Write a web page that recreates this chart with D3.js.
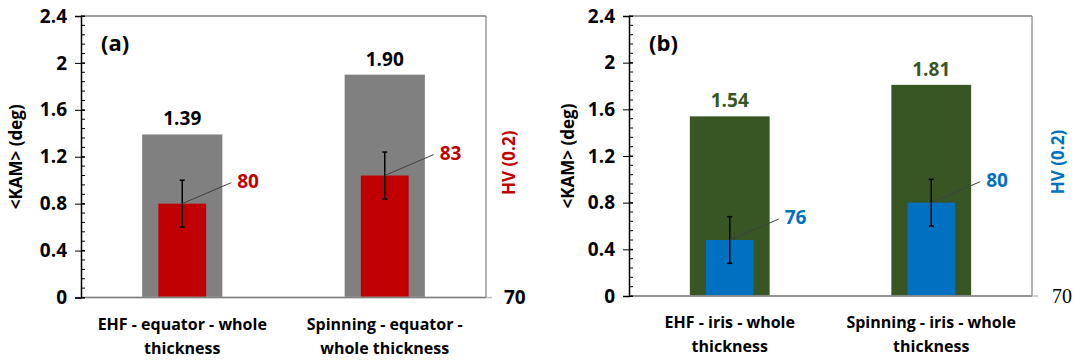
<!DOCTYPE html>
<html>
<head>
<meta charset="utf-8">
<script src="https://cdn.jsdelivr.net/npm/d3@7"></script>
<style>
  body { margin: 0; background: #fff; }
</style>
</head>
<body>
<svg id="chart" width="1078" height="360" font-family="Open Sans, sans-serif" font-weight="bold"></svg>
<script>
// chart values
var panelLabels = ["(a)", "(b)"];
var categoriesA = [["EHF - equator - whole", "thickness"], ["Spinning - equator -", "whole thickness"]];
var categoriesB = [["EHF - iris - whole", "thickness"], ["Spinning - iris - whole", "thickness"]];
var kamA = [1.39, 1.90];
var kamB = [1.54, 1.81];
var hvA = [80, 83];
var hvB = [76, 80];
var hvErrA = [2.5, 2.5];
var hvErrB = [2.5, 2.5];
var kamTicks = [0, 0.4, 0.8, 1.2, 1.6, 2, 2.4];
var hvTicks = [70];

var svg = d3.select("#chart");

function drawPanel(opt) {
	var g = svg.append("g");
	var x = d3.scaleBand()
		.domain(d3.range(opt.kam.length))
		.range([opt.left, opt.right]);
	var y = d3.scaleLinear()
		.domain([0, 2.4])
		.range([opt.bottom, opt.top]);
	var yHv = d3.scaleLinear()
		.domain([70, 100])
		.range([opt.bottom, opt.top]);
	var bw = x.bandwidth();

	// frame: top and right
	g.append("line").attr("x1", opt.left).attr("x2", opt.right)
		.attr("y1", opt.top).attr("y2", opt.top)
		.attr("stroke", "#404040").attr("stroke-width", 1.2);
	g.append("line").attr("x1", opt.right).attr("x2", opt.right)
		.attr("y1", opt.top).attr("y2", opt.bottom)
		.attr("stroke", "#7f7f7f").attr("stroke-width", 1.2);

	// KAM bars
	g.selectAll(".kam").data(opt.kam).enter().append("rect")
		.attr("x", function(d, i) { return x(i) + bw * 0.302; })
		.attr("width", bw * 0.396)
		.attr("y", function(d) { return y(d); })
		.attr("height", function(d) { return y(0) - y(d); })
		.attr("fill", opt.kamColor);

	// HV bars
	g.selectAll(".hv").data(opt.hv).enter().append("rect")
		.attr("x", function(d, i) { return x(i) + bw * 0.382; })
		.attr("width", bw * 0.236)
		.attr("y", function(d) { return yHv(d); })
		.attr("height", function(d) { return yHv(70) - yHv(d); })
		.attr("fill", opt.hvColor);

	// error bars
	opt.hv.forEach(function(d, i) {
		var cx = x(i) + bw / 2;
		var e = opt.err[i];
		g.append("line").attr("x1", cx).attr("x2", cx)
			.attr("y1", yHv(d - e)).attr("y2", yHv(d + e))
			.attr("stroke", "#000").attr("stroke-width", 1.5);
		[d - e, d + e].forEach(function(v) {
			g.append("line").attr("x1", cx - 2.5).attr("x2", cx + 2.5)
				.attr("y1", yHv(v)).attr("y2", yHv(v))
				.attr("stroke", "#000").attr("stroke-width", 1.5);
		});
		// leader line + label
		g.append("line").attr("x1", cx).attr("y1", yHv(d))
			.attr("x2", cx + 49).attr("y2", yHv(d) - 21)
			.attr("stroke", "#404040").attr("stroke-width", 1);
		g.append("text").attr("x", cx + 55).attr("y", yHv(d) - 16)
			.attr("font-size", 19).attr("fill", opt.hvColor)
			.text(d);
	});

	// KAM value labels
	g.selectAll(".kamlab").data(opt.kam).enter().append("text")
		.attr("x", function(d, i) { return x(i) + bw / 2; })
		.attr("y", function(d) { return y(d) - 9; })
		.attr("text-anchor", "middle")
		.attr("font-size", 19)
		.attr("fill", opt.kamLabelColor)
		.text(function(d) { return d.toFixed(2); });

	// bottom axis line, extending slightly to the right
	g.append("line").attr("x1", opt.left).attr("x2", opt.right + 6)
		.attr("y1", opt.bottom).attr("y2", opt.bottom)
		.attr("stroke", "#bfbfbf").attr("stroke-width", 1.5);
	g.append("line").attr("x1", opt.left).attr("x2", opt.right)
		.attr("y1", opt.bottom).attr("y2", opt.bottom)
		.attr("stroke", "#7f7f7f").attr("stroke-width", 1.5);

	// left axis with minor ticks
	var minor = d3.range(0, 2.4001, 0.08);
	g.selectAll(".minor").data(minor).enter().append("line")
		.attr("x1", opt.left).attr("x2", opt.left + 4)
		.attr("y1", function(d) { return y(d); })
		.attr("y2", function(d) { return y(d); })
		.attr("stroke", "#000").attr("stroke-width", 1);
	var axis = g.append("g")
		.attr("transform", "translate(" + opt.left + ",0)")
		.call(d3.axisLeft(y).tickValues(kamTicks).tickSize(6).tickPadding(8)
			.tickFormat(function(d) { return d3.format("")(+d.toFixed(1)); }))
		.attr("font-family", "Open Sans, sans-serif").attr("font-size", 19);
	axis.select(".domain").attr("stroke", "#000").attr("stroke-width", 1.5);
	axis.selectAll(".tick line").attr("stroke", "#000").attr("x2", -6).attr("x1", 4);
	axis.selectAll(".tick text").attr("fill", "#000");

	// right HV axis
	var raxis = g.append("g")
		.attr("transform", "translate(" + opt.right + ",0)")
		.call(d3.axisRight(yHv).tickValues(hvTicks).tickSize(0).tickPadding(opt.hvTickPad))
		.attr("font-family", opt.hvTickFont).attr("font-size", opt.hvTickSize)
		.attr("font-weight", opt.hvTickWeight);
	raxis.select(".domain").remove();
	raxis.selectAll(".tick text").attr("fill", "#000");

	// category labels
	opt.cats.forEach(function(lines, i) {
		var t = g.append("text").attr("text-anchor", "middle")
			.attr("font-size", 16).attr("fill", "#000");
		lines.forEach(function(s, k) {
			t.append("tspan").attr("x", x(i) + bw / 2)
				.attr("y", opt.bottom + 32 + k * 24).text(s);
		});
	});

	// axis titles
	g.append("text")
		.attr("transform", "translate(" + opt.titleX + "," + (opt.top + opt.bottom) / 2 + ") rotate(-90)")
		.attr("text-anchor", "middle").attr("font-size", 17).attr("fill", "#000")
		.text("<KAM> (deg)");
	g.append("text")
		.attr("transform", "translate(" + opt.hvTitleX + "," + ((opt.top + opt.bottom) / 2 + 6) + ") rotate(-90)")
		.attr("text-anchor", "middle").attr("font-size", 17).attr("fill", opt.hvColor)
		.text("HV (0.2)");

	// panel label
	g.append("text").attr("x", opt.left + 20).attr("y", opt.top + 35)
		.attr("font-size", 22).attr("fill", "#000").text(opt.label);
}

drawPanel({
	label: panelLabels[0], left: 81, right: 486, top: 16, bottom: 297.5,
	kam: kamA, hv: hvA, err: hvErrA, cats: categoriesA,
	kamColor: "#808080", hvColor: "#c00000", kamLabelColor: "#000",
	titleX: 22, hvTitleX: 515,
	hvTickPad: 18, hvTickSize: 19, hvTickFont: "Open Sans, sans-serif", hvTickWeight: "bold"
});
drawPanel({
	label: panelLabels[1], left: 629, right: 1032, top: 16, bottom: 296,
	kam: kamB, hv: hvB, err: hvErrB, cats: categoriesB,
	kamColor: "#375623", hvColor: "#0070c0", kamLabelColor: "#375623",
	titleX: 574, hvTitleX: 1064,
	hvTickPad: 20, hvTickSize: 20, hvTickFont: "Liberation Serif, serif", hvTickWeight: "normal"
});
</script>
</body>
</html>
